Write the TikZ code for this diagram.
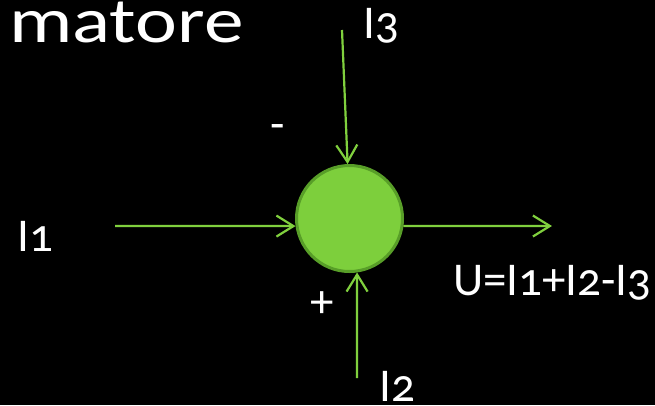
\documentclass[tikz,border=0pt]{standalone}
\usepackage{fontspec}
\setmainfont{Carlito}[Numbers=OldStyle]
\usepackage{tikz}
\usetikzlibrary{arrows.meta,calc}
\definecolor{sumfill}{RGB}{125,207,60}
\definecolor{sumedge}{RGB}{88,158,40}
\definecolor{wire}{RGB}{128,208,62}
\tikzset{
    wirearrow/.style={draw=wire, line width=2.2pt,
        -{Straight Barb[length=17pt,width=21pt,line width=2.2pt]}},
    txt/.style={text=white, inner sep=0pt, anchor=base west,
        font=\fontsize{47}{50}\selectfont},
}
\begin{document}
\begin{tikzpicture}[x=1pt,y=-1pt]
            % sfondo
            \fill[black] (0,0) rectangle (655,405);
            \useasboundingbox (0,0) rectangle (655,405);
            % titolo tagliato
            \node[txt, font=\fontsize{64}{70}\selectfont, xscale=1.24] (title) at (9,42) {matore};
            % nodo sommatore
            \node[circle, draw=sumedge, fill=sumfill, line width=3pt,
                  minimum size=106pt, inner sep=0pt] (sum) at (349.5,218.5) {};
            % estremi liberi
            \coordinate (in1) at (115,226);
            \coordinate (in2) at (357,378);
            \coordinate (in3) at (342,30);
            \coordinate (out) at (552,226);
            % frecce
            \draw[wirearrow] (in1) -- (sum.188);
            \draw[wirearrow] (in3) -- (sum.92);
            \draw[wirearrow] (in2) -- (sum.278);
            \draw[wirearrow] (sum.352) -- (out);
            % etichette
            \node[txt] (lab1) at (17,251) {I1};
            \node[txt] (lab3) at (363,38) {I3};
            \node[txt] (lab2) at (379,401) {I2};
            \node[txt] (labu) at (453,295) {U=I1+I2-I3};
            \node[txt, anchor=center] (minus) at (278,132) {-};
            \node[txt, anchor=center] (plus) at (322,305) {+};
\end{tikzpicture}
\end{document}
